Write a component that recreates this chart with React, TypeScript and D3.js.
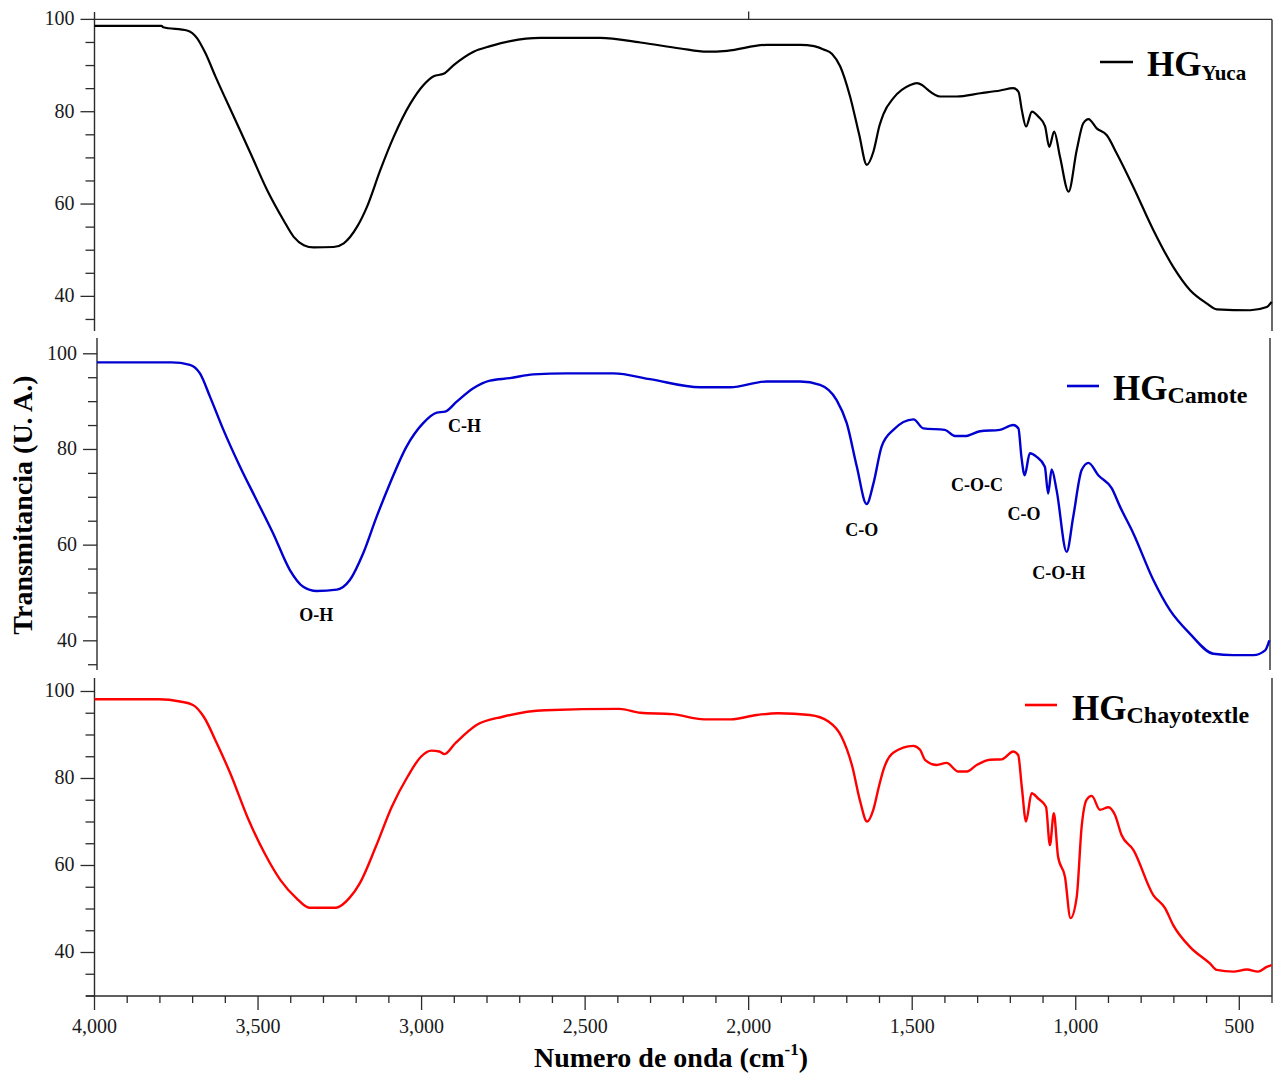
import React from 'react';
import * as d3 from 'd3';

// ---------- data ----------
const xMajorTicks = [4000, 3500, 3000, 2500, 2000, 1500, 1000, 500];
const xTickLabels = ['4,000', '3,500', '3,000', '2,500', '2,000', '1,500', '1,000', '500'];
const yMajorTicks = [100, 80, 60, 40];

const yucaWn = [4000, 3795, 3790, 3717, 3686, 3661, 3630, 3574, 3523, 3472, 3422, 3391, 3360, 3330, 3269, 3238, 3197, 3167, 3126, 3085, 3034, 2994, 2963, 2933, 2902, 2841, 2790, 2729, 2637, 2454, 2331, 2209, 2128, 2066, 1944, 1842, 1800, 1771, 1745, 1720, 1690, 1662, 1639, 1618, 1600, 1588, 1557, 1506, 1486, 1470, 1455, 1415, 1364, 1292, 1231, 1191, 1175, 1165, 1152, 1134, 1114, 1094, 1081, 1066, 1048, 1022, 997, 977, 961, 936, 905, 875, 824, 763, 702, 651, 600, 569, 467, 416, 401];
const yucaT = [98.6, 98.6, 98.3, 97.6, 95.9, 92.7, 87.6, 78.9, 71.0, 63.0, 56.5, 52.9, 51.1, 50.6, 50.7, 51.5, 55.1, 59.4, 67.4, 74.6, 81.8, 85.8, 87.7, 88.2, 90.1, 93.0, 94.2, 95.3, 96.0, 96.0, 95.0, 93.7, 93.0, 93.2, 94.5, 94.5, 94.2, 93.5, 92.5, 89.8, 83.3, 75.0, 68.5, 71.5, 77.0, 79.5, 83.0, 85.8, 86.2, 85.8, 84.9, 83.3, 83.3, 84.0, 84.6, 85.1, 84.3, 80.4, 76.8, 80.0, 78.9, 76.9, 72.4, 75.7, 70.2, 62.7, 71.7, 77.5, 78.4, 76.4, 74.9, 71.0, 63.7, 54.4, 46.4, 41.4, 38.5, 37.2, 37.0, 37.7, 38.8];

const camoteWn = [4000, 3771, 3715, 3684, 3653, 3612, 3561, 3510, 3459, 3408, 3367, 3326, 3264, 3224, 3183, 3142, 3101, 3050, 2999, 2957, 2932, 2896, 2845, 2794, 2733, 2661, 2558, 2415, 2303, 2149, 2057, 1945, 1842, 1781, 1730, 1699, 1668, 1638, 1617, 1592, 1556, 1494, 1464, 1398, 1367, 1336, 1290, 1229, 1188, 1172, 1163, 1153, 1137, 1117, 1091, 1081, 1070, 1055, 1024, 1004, 978, 957, 927, 886, 860, 819, 758, 707, 646, 574, 513, 451, 415, 402];
const camoteT = [98.2, 98.2, 97.7, 95.9, 91.0, 84.1, 76.4, 69.4, 62.4, 54.8, 51.3, 50.4, 50.7, 52.7, 58.3, 65.9, 72.9, 80.6, 85.5, 87.7, 87.9, 90.0, 92.8, 94.4, 94.9, 95.7, 95.9, 95.9, 94.7, 93.0, 93.0, 94.2, 94.2, 93.5, 90.3, 85.5, 76.4, 68.6, 72.9, 80.6, 84.1, 86.3, 84.4, 84.1, 82.8, 82.8, 83.8, 84.1, 85.1, 84.4, 78.5, 74.6, 79.2, 78.5, 76.4, 70.8, 75.8, 71.5, 58.6, 65.9, 75.7, 77.2, 74.6, 71.9, 68.0, 62.4, 52.7, 46.4, 41.5, 37.3, 37.0, 37.0, 38.0, 40.1];

const chayoWn = [4000, 3804, 3739, 3699, 3666, 3626, 3585, 3529, 3480, 3432, 3383, 3343, 3261, 3221, 3189, 3140, 3091, 3043, 3002, 2970, 2946, 2930, 2897, 2832, 2752, 2622, 2395, 2331, 2234, 2136, 2055, 1975, 1910, 1813, 1756, 1716, 1683, 1660, 1638, 1619, 1602, 1588, 1558, 1497, 1476, 1461, 1425, 1395, 1359, 1333, 1303, 1262, 1226, 1191, 1176, 1165, 1152, 1135, 1115, 1091, 1079, 1067, 1054, 1033, 1016, 997, 982, 967, 951, 926, 900, 880, 860, 824, 763, 727, 702, 651, 590, 569, 518, 477, 442, 416, 401];
const chayoT = [98.2, 98.2, 97.7, 96.9, 94.2, 88.1, 81.2, 70.5, 62.8, 56.7, 52.5, 50.3, 50.3, 52.5, 55.9, 64.3, 73.5, 80.4, 85.0, 86.4, 86.2, 85.6, 88.1, 92.3, 94.2, 95.7, 96.0, 95.1, 94.8, 93.6, 93.6, 94.6, 95.0, 94.6, 93.1, 89.6, 82.7, 75.0, 70.1, 72.8, 78.1, 82.0, 85.9, 87.5, 86.6, 84.3, 83.1, 83.6, 81.6, 81.6, 83.1, 84.3, 84.4, 86.2, 85.4, 78.1, 70.1, 76.6, 75.4, 73.5, 64.7, 72.0, 62.0, 57.4, 47.9, 52.8, 68.9, 75.1, 76.0, 72.8, 73.4, 71.6, 67.0, 63.6, 53.2, 50.2, 46.3, 41.3, 37.5, 36.0, 35.6, 36.1, 35.6, 36.7, 37.1];

const seriesNames = ['Yuca', 'Camote', 'Chayotextle'];
const seriesColors = ['#000000', '#0000d0', '#ff0000'];

const annotationLabels = ['O-H', 'C-H', 'C-O', 'C-O-C', 'C-O', 'C-O-H'];
const annotationWn = [3327, 2872, 1653, 1299, 1155, 1048];
const annotationT = [44.1, 83.7, 61.9, 71.4, 65.3, 52.9];

// ---------- layout ----------
const W = 1273;
const H = 1076;
const FONT = '"Liberation Serif", "Times New Roman", serif';
const AXIS = '#2b2b2b';

const panels = [
  { wn: yucaWn, t: yucaT, x0: 94.5, x1: 1272, yTop: 12, yBot: 331, dTop: 101.6, dBot: 32.5, minorMin: 35, lw: 2.2,
    legend: { lx0: 1100, lx1: 1133, ly: 62, tx: 1147, ty: 76, subSize: 21, subDy: 4 } },
  { wn: camoteWn, t: camoteT, x0: 97, x1: 1270, yTop: 338, yBot: 670, dTop: 103.3, dBot: 33.9, minorMin: 35, lw: 2.4,
    legend: { lx0: 1067, lx1: 1099, ly: 386, tx: 1113, ty: 400, subSize: 24, subDy: 3 } },
  { wn: chayoWn, t: chayoT, x0: 94.5, x1: 1272, yTop: 678, yBot: 996, dTop: 103.1, dBot: 30, minorMin: 30, lw: 2.4,
    legend: { lx0: 1025, lx1: 1057, ly: 705, tx: 1072, ty: 720, subSize: 24, subDy: 3 } },
];

export default function App() {
  const minorY = (min: number) => d3.range(min, 101, 5);
  const minorX = d3.range(4000, 399, -100);

  return (
    <svg width={W} height={H} viewBox={`0 0 ${W} ${H}`}
      style={{ position: 'absolute', left: 0, top: 0, background: '#fff' }}
      fontFamily={FONT}>
      <rect x={0} y={0} width={W} height={H} fill="#fff" />
      {panels.map((p, i) => {
        const x = d3.scaleLinear().domain([4000, 400]).range([p.x0, p.x1]);
        const y = d3.scaleLinear().domain([p.dBot, p.dTop]).range([p.yBot, p.yTop]);
        const pts: [number, number][] = p.wn.map((w, k) => [w, p.t[k]]);
        const line = d3.line<[number, number]>()
          .x(d => x(d[0]))
          .y(d => y(d[1]))
          .curve(d3.curveMonotoneX);
        return (
          <g key={i}>
            <line x1={p.x0} x2={p.x0} y1={p.yTop} y2={p.yBot} stroke={AXIS} strokeWidth={1.4} />
            <line x1={p.x1} x2={p.x1} y1={i === 0 ? y(100) : p.yTop} y2={p.yBot} stroke={AXIS} strokeWidth={1.4} />
            {i === 0 && (
              <>
                <line x1={p.x0} x2={p.x1} y1={y(100)} y2={y(100)} stroke={AXIS} strokeWidth={1.3} />
                <line x1={x(2000)} x2={x(2000)} y1={y(100) - 8} y2={y(100)} stroke={AXIS} strokeWidth={1.3} />
              </>
            )}
            {minorY(p.minorMin).map(v => {
              const major = v % 20 === 0;
              return (
                <line key={v} x1={p.x0 - (major ? 14 : 9)} x2={p.x0} y1={y(v)} y2={y(v)}
                  stroke={AXIS} strokeWidth={1.3} />
              );
            })}
            {yMajorTicks.map(v => (
              <text key={v} x={p.x0 - 20} y={y(v) + 6} textAnchor="end" fontSize={20} fill="#1a1a1a">{v}</text>
            ))}
            <path d={line(pts) || ''} fill="none" stroke={seriesColors[i]} strokeWidth={p.lw}
              strokeLinejoin="round" />
            <line x1={p.legend.lx0} x2={p.legend.lx1} y1={p.legend.ly} y2={p.legend.ly}
              stroke={seriesColors[i]} strokeWidth={2.6} />
            <text x={p.legend.tx} y={p.legend.ty} fontSize={35} fontWeight="bold" fill="#000">
              HG<tspan fontSize={p.legend.subSize} dy={p.legend.subDy}>{seriesNames[i]}</tspan>
            </text>
            {i === 1 && annotationLabels.map((lab, k) => (
              <text key={k} x={x(annotationWn[k])} y={y(annotationT[k])} textAnchor="middle"
                fontSize={18} fontWeight="bold" fill="#000">{lab}</text>
            ))}
            {i === 2 && (
              <g>
                <line x1={86} x2={p.x1} y1={p.yBot} y2={p.yBot} stroke={AXIS} strokeWidth={1.4} />
                {minorX.map(v => {
                  const major = v % 500 === 0;
                  return (
                    <line key={v} x1={x(v)} x2={x(v)} y1={p.yBot} y2={p.yBot + (major ? 14 : 7)}
                      stroke={AXIS} strokeWidth={1.3} />
                  );
                })}
                {xMajorTicks.map((v, k) => (
                  <text key={v} x={x(v)} y={1033} textAnchor="middle" fontSize={20} fill="#1a1a1a">
                    {xTickLabels[k]}
                  </text>
                ))}
              </g>
            )}
          </g>
        );
      })}
      <text x={671} y={1067} textAnchor="middle" fontSize={28} fontWeight="bold" fill="#000">
        Numero de onda (cm<tspan fontSize={17} dy={-12}>-1</tspan><tspan dy={12}>)</tspan>
      </text>
      <text transform="translate(32,505) rotate(-90)" textAnchor="middle" fontSize={28}
        fontWeight="bold" fill="#000">Transmitancia (U. A.)</text>
    </svg>
  );
}
